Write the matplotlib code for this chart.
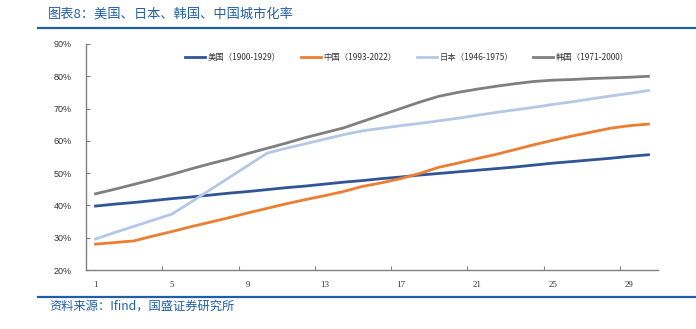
import matplotlib
matplotlib.use("Agg")
import matplotlib.pyplot as plt
from matplotlib.lines import Line2D
from matplotlib.ticker import FixedLocator, PercentFormatter

plt.rcParams["font.family"] = ["Noto Sans CJK SC", "DejaVu Sans"]

YEARS = list(range(1, 31))

USA = [39.8, 40.4, 40.9, 41.5, 42.1, 42.6, 43.2, 43.8, 44.3, 44.9,
       45.5, 46.0, 46.6, 47.2, 47.7, 48.3, 48.8, 49.4, 49.9, 50.4,
       50.9, 51.4, 51.9, 52.5, 53.1, 53.6, 54.1, 54.6, 55.2, 55.7]
CHINA = [28.0, 28.5, 29.0, 30.5, 31.9, 33.4, 34.8, 36.2, 37.7, 39.1,
         40.5, 41.8, 43.0, 44.3, 45.9, 47.0, 48.3, 49.9, 51.8, 53.1,
         54.5, 55.8, 57.3, 58.8, 60.2, 61.5, 62.7, 63.9, 64.7, 65.2]
JAPAN = [29.6, 31.6, 33.5, 35.4, 37.3, 41.0, 44.8, 48.6, 52.4, 56.2,
         57.7, 59.1, 60.5, 61.9, 63.1, 63.9, 64.7, 65.4, 66.2, 67.0,
         67.9, 68.8, 69.6, 70.4, 71.3, 72.1, 73.0, 73.9, 74.7, 75.6]
KOREA = [43.6, 45.0, 46.5, 48.0, 49.6, 51.3, 52.9, 54.4, 56.1, 57.7,
         59.3, 61.0, 62.5, 64.0, 66.0, 68.0, 70.0, 72.0, 73.8, 75.0,
         76.0, 76.9, 77.7, 78.4, 78.8, 79.0, 79.3, 79.5, 79.7, 80.0]

SERIES = [
    ("美国（1900-1929）", USA, "#2f5597"),
    ("中国（1993-2022）", CHINA, "#ed7d31"),
    ("日本（1946-1975）", JAPAN, "#b4c7e7"),
    ("韩国（1971-2000）", KOREA, "#7f7f7f"),
]

X_LABELS = [1, 5, 9, 13, 17, 21, 25, 29]
Y_TICKS = [20, 30, 40, 50, 60, 70, 80, 90]

BLUE = "#1f5fa8"
AXIS_GREY = "#808080"


def main():
    fig = plt.figure(figsize=(6.96, 3.29), dpi=100)
    ax = fig.add_axes([86 / 696, 1 - 270 / 329, 572 / 696, 226 / 329])

    for label, values, color in SERIES:
        ax.plot(YEARS, values, color=color, linewidth=2.0, label=label)

    ax.set_xlim(0.5, 30.5)
    ax.set_ylim(20, 90)

    ax.xaxis.set_major_locator(FixedLocator(X_LABELS))
    ax.xaxis.set_minor_locator(FixedLocator([x - 0.5 for x in X_LABELS[1:]]))
    ax.tick_params(axis="x", which="major", length=0, pad=8, labelsize=6.5,
                   labelcolor="#333333")
    ax.tick_params(axis="x", which="minor", length=3, direction="in",
                   color=AXIS_GREY, width=0.8)
    for lab in ax.get_xticklabels():
        lab.set_family("Liberation Serif")

    ax.set_yticks(Y_TICKS)
    ax.yaxis.set_major_formatter(PercentFormatter(decimals=0))
    ax.tick_params(axis="y", length=3, direction="in", color=AXIS_GREY,
                   width=0.8, labelsize=6.5, labelcolor="#333333", pad=10)
    for lab in ax.get_yticklabels():
        lab.set_family("Liberation Sans")

    for spine in ["top", "right"]:
        ax.spines[spine].set_visible(False)
    for spine in ["left", "bottom"]:
        ax.spines[spine].set_color(AXIS_GREY)
        ax.spines[spine].set_linewidth(1.0)

    ax.legend(loc="center", bbox_to_anchor=(0.561, 0.942), ncol=4,
              frameon=False, fontsize=6, handlelength=2.4, handletextpad=0.3,
              columnspacing=2.4, labelcolor="#333333")

    fig.text(48 / 696, 1 - 14 / 329, "图表8：美国、日本、韩国、中国城市化率",
             ha="left", va="center", fontsize=9.5, color=BLUE)
    fig.add_artist(Line2D([38 / 696, 1.0], [1 - 28 / 329, 1 - 28 / 329],
                          color=BLUE, linewidth=1.6))
    fig.add_artist(Line2D([38 / 696, 1.0], [1 - 297 / 329, 1 - 297 / 329],
                          color=BLUE, linewidth=1.6))
    fig.text(49 / 696, 1 - 306 / 329, "资料来源：Ifind，国盛证券研究所",
             ha="left", va="center", fontsize=8.8, color=BLUE)

    fig.savefig("out.png", dpi=100)


if __name__ == "__main__":
    main()
